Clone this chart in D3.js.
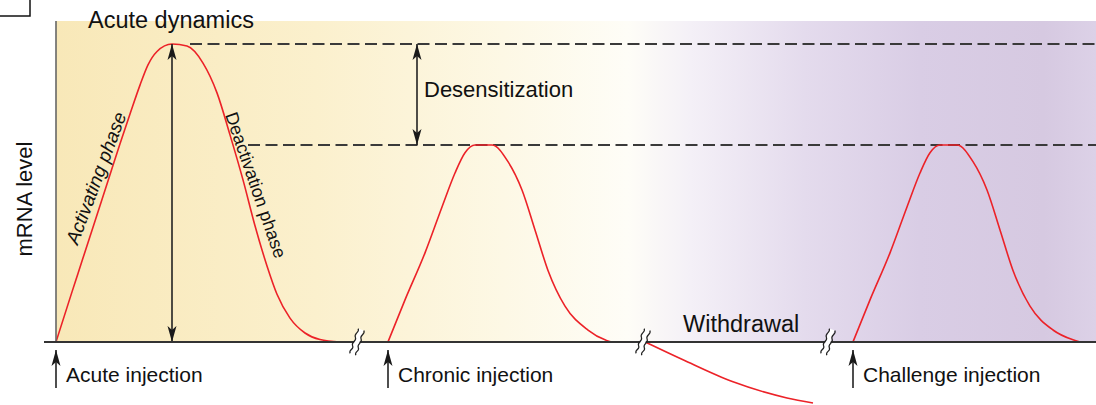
<!DOCTYPE html>
<html>
<head>
<meta charset="utf-8">
<script src="https://cdn.jsdelivr.net/npm/d3@7"></script>
<style>
  body { margin: 0; background: #fff; }
  svg text { font-family: "Liberation Sans", Arial, sans-serif; fill: #111; }
</style>
</head>
<body>
<div id="container"></div>
<script>
var width = 1096, height = 405;

// curves as [time, mRNA level]
var acuteCurve = [[0,0],[1.6,0.168],[2.2,0.23],[3.7,0.385],[5.1,0.53],[6.4,0.665],[7.4,0.765],
  [8.4,0.862],[9.2,0.93],[10.1,0.975],[11.6,1],[13.1,0.993],[14.7,0.936],[16.1,0.836],[17.4,0.695],
  [18.7,0.544],[19.9,0.39],[21.1,0.255],[22.1,0.16],[23.4,0.08],[24.9,0.03],[26.4,0.008],[28.4,0]];
var chronicCurve = [[33.2,0],[34.9,0.141],[36.9,0.299],[38.6,0.453],[39.9,0.567],[40.9,0.635],
  [41.9,0.661],[43.6,0.661],[45.2,0.605],[46.6,0.51],[47.9,0.376],[49.2,0.24],[50.9,0.12],
  [53.2,0.04],[54.9,0.007],[55.6,0],[58.9,0]];
var withdrawalCurve = [[58.9,0],[62.7,-0.06],[67.7,-0.134],[73.1,-0.188],[75.7,-0.205]];
var challengeCurve = [[79.7,0],[81.4,0.141],[83.4,0.299],[85.1,0.453],[86.4,0.567],[87.4,0.635],
  [88.4,0.661],[90.1,0.661],[91.7,0.605],[93.1,0.51],[94.4,0.376],[95.7,0.24],[97.4,0.12],
  [99.7,0.04],[101.7,0.007],[102.4,0]];

var acutePeak = 1, chronicPeak = 0.661;
var refLines = [{level: acutePeak, t0: 13.4}, {level: chronicPeak, t0: 19.2}];
var injections = [{t: 0, label: "Acute injection"}, {t: 33.2, label: "Chronic injection"}, {t: 79.7, label: "Challenge injection"}];
var breaks = [30.1, 58.7, 77.2];

var xScale = d3.scaleLinear().domain([0, 104]).range([56, 1096]);
var yScale = d3.scaleLinear().domain([-0.205, 1]).range([403, 44]);

var svg = d3.select("#container").append("svg")
  .attr("width", width).attr("height", height);

var defs = svg.append("defs");
var grad = defs.append("linearGradient").attr("id", "bg")
  .attr("gradientUnits", "userSpaceOnUse")
  .attr("x1", xScale(0)).attr("x2", width).attr("y1", 0).attr("y2", 0);
[[0,"#f8e8b8"],[0.25,"#fbf0cd"],[0.43,"#fdf8e5"],[0.55,"#fefdf7"],[0.61,"#f4f0f7"],
 [0.72,"#e4dbed"],[0.83,"#d9cde5"],[0.95,"#d6c9e1"],[1,"#dcd1e7"]].forEach(function(s) {
  grad.append("stop").attr("offset", s[0]).attr("stop-color", s[1]);
});

// arrowhead pointing along the line direction
defs.append("marker").attr("id", "head")
  .attr("viewBox", "0 0 16 10").attr("refX", 16).attr("refY", 5)
  .attr("markerWidth", 16).attr("markerHeight", 10).attr("markerUnits", "userSpaceOnUse")
  .attr("orient", "auto-start-reverse")
  .append("path").attr("d", "M16,5 L0,9.5 L4,5 L0,0.5 Z").attr("fill", "#1a1a1a");

// background panel
svg.append("rect")
  .attr("x", xScale(0)).attr("y", 21)
  .attr("width", width - xScale(0)).attr("height", yScale(0) - 21)
  .attr("fill", "url(#bg)");

// dashed reference levels
svg.selectAll(".ref").data(refLines).enter().append("line")
  .attr("class", "ref")
  .attr("x1", function(d) { return xScale(d.t0); }).attr("x2", width)
  .attr("y1", function(d) { return yScale(d.level); }).attr("y2", function(d) { return yScale(d.level); })
  .attr("stroke", "#3a3a3a").attr("stroke-width", 2).attr("stroke-dasharray", "12,5.5");

// response curves
var line = d3.line()
  .x(function(d) { return xScale(d[0]); })
  .y(function(d) { return yScale(d[1]); })
  .curve(d3.curveMonotoneX);

svg.selectAll(".curve").data([acuteCurve, chronicCurve, withdrawalCurve, challengeCurve])
  .enter().append("path")
  .attr("class", "curve")
  .attr("d", line)
  .attr("fill", "none").attr("stroke", "#ec2228").attr("stroke-width", 1.6);

// double arrows
function vArrow(t, a, b) {
  svg.append("line")
    .attr("x1", xScale(t)).attr("x2", xScale(t))
    .attr("y1", yScale(a)).attr("y2", yScale(b))
    .attr("stroke", "#222").attr("stroke-width", 1.6)
    .attr("marker-start", "url(#head)").attr("marker-end", "url(#head)");
}
vArrow(11.6, acutePeak, 0);
vArrow(36.1, acutePeak, chronicPeak);

// axes
svg.append("line")
  .attr("x1", xScale(0)).attr("x2", xScale(0)).attr("y1", 21).attr("y2", yScale(0))
  .attr("stroke", "#666").attr("stroke-width", 1.6);
svg.append("line")
  .attr("x1", 44).attr("x2", width).attr("y1", yScale(0)).attr("y2", yScale(0))
  .attr("stroke", "#333").attr("stroke-width", 2);

// axis breaks
var brk = svg.selectAll(".brk").data(breaks).enter().append("g")
  .attr("class", "brk")
  .attr("transform", function(d) { return "translate(" + xScale(d) + "," + yScale(0) + ") rotate(18)"; });
brk.append("rect").attr("x", -2.5).attr("y", -13).attr("width", 5).attr("height", 26).attr("fill", "#fff");
brk.append("path")
  .attr("d", "M-3,-13 c3,3 -3,6 0,9 s-3,6 0,9 s-3,5 0,8 M3,-13 c3,3 -3,6 0,9 s-3,6 0,9 s-3,5 0,8")
  .attr("fill", "none").attr("stroke", "#222").attr("stroke-width", 1.2);

// injection arrows and labels
var inj = svg.selectAll(".inj").data(injections).enter().append("g").attr("class", "inj");
inj.append("line")
  .attr("x1", function(d) { return xScale(d.t); }).attr("x2", function(d) { return xScale(d.t); })
  .attr("y1", yScale(0) + 46).attr("y2", yScale(0) + 8)
  .attr("stroke", "#222").attr("stroke-width", 1.6)
  .attr("marker-end", "url(#head)");
inj.append("text")
  .attr("x", function(d) { return xScale(d.t) + 10; })
  .attr("y", yScale(0) + 40)
  .attr("font-size", 21)
  .text(function(d) { return d.label; });

// annotations
svg.append("text").attr("x", 88).attr("y", 28).attr("font-size", 23.5).text("Acute dynamics");
svg.append("text").attr("x", xScale(36.1) + 7).attr("y", 97).attr("font-size", 22).text("Desensitization");
svg.append("text").attr("x", 683).attr("y", 332).attr("font-size", 23.5).text("Withdrawal");
svg.append("text")
  .attr("transform", "translate(96,178) rotate(-69.5)")
  .attr("text-anchor", "middle").attr("dy", "0.35em")
  .attr("font-size", 19).attr("font-style", "italic")
  .text("Activating phase");
svg.append("text")
  .attr("transform", "translate(256,185) rotate(71)")
  .attr("text-anchor", "middle").attr("dy", "0.35em")
  .attr("font-size", 18)
  .text("Deactivation phase");
svg.append("text")
  .attr("transform", "translate(32,199) rotate(-90)")
  .attr("text-anchor", "middle")
  .attr("font-size", 22)
  .text("mRNA level");

// panel letter box (cropped)
svg.append("rect").attr("x", -4).attr("y", -4).attr("width", 34).attr("height", 20)
  .attr("fill", "none").attr("stroke", "#111").attr("stroke-width", 1.5);
</script>
</body>
</html>
